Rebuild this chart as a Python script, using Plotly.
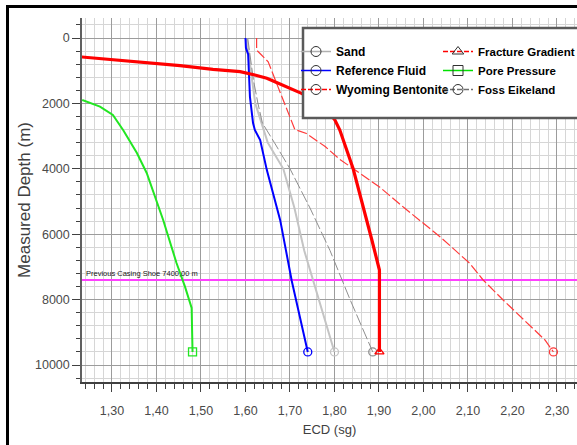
import plotly.graph_objects as go

# ---------------- data ----------------
sand_ecd = [1.603, 1.607, 1.615, 1.622, 1.633, 1.650, 1.685, 1.710, 1.732, 1.765, 1.800]
sand_depth = [0, 500, 1300, 2000, 2500, 3200, 4000, 5200, 6500, 8000, 9600]

ref_ecd = [1.600, 1.601, 1.606, 1.610, 1.617, 1.621, 1.633, 1.648, 1.678, 1.690, 1.704, 1.740]
ref_depth = [0, 300, 500, 1800, 2600, 2810, 3120, 4040, 5570, 6480, 7430, 9600]

wyo_ecd = [1.220, 1.280, 1.363, 1.453, 1.527, 1.588, 1.621, 1.648, 1.666, 1.690, 1.726,
           1.760, 1.785, 1.801, 1.812, 1.842, 1.861, 1.884, 1.901, 1.901]
wyo_depth = [565, 640, 720, 845, 960, 1030, 1131, 1230, 1336, 1480, 1692,
             1950, 2250, 2508, 2813, 4000, 4954, 6177, 7095, 9600]

frac_ecd = [1.625, 1.625, 1.636, 1.651, 1.670, 1.696, 1.711, 1.737, 1.779, 1.812, 1.842,
            1.902, 1.958, 2.037, 2.104, 2.134, 2.179, 2.273, 2.292]
frac_depth = [0, 370, 520, 725, 1390, 2300, 2800, 2920, 3320, 3710, 4000,
              4566, 5208, 6076, 6890, 7400, 8012, 9235, 9600]

pore_ecd = [1.233, 1.273, 1.302, 1.325, 1.356, 1.378, 1.415, 1.445, 1.464, 1.479, 1.481]
pore_depth = [1896, 2100, 2355, 2813, 3517, 4128, 5566, 6881, 7605, 8257, 9600]

foss_ecd = [1.605, 1.610, 1.618, 1.628, 1.638, 1.665, 1.700, 1.745, 1.790, 1.835, 1.886]
foss_depth = [0, 500, 1300, 2000, 2600, 3200, 4000, 5200, 6500, 8000, 9600]

casing_depth = 7400

x_tickvals = [1.30, 1.40, 1.50, 1.60, 1.70, 1.80, 1.90, 2.00, 2.10, 2.20, 2.30]
x_ticktext = ["1,30", "1,40", "1,50", "1,60", "1,70", "1,80", "1,90", "2,00", "2,10", "2,20", "2,30"]
y_tickvals = [0, 2000, 4000, 6000, 8000, 10000]
y_ticktext = ["0", "2000", "4000", "6000", "8000", "10000"]

x_range = [1.2326, 2.345]
y_range = [10520, -612]

# ---------------- styles ----------------
ARIAL = "Liberation Sans, Arial, sans-serif"

series = [
    # name, x, y, color, width, dash, end symbol, legend, legend line colour, legend dash
    ("Sand", sand_ecd, sand_depth, "#c4c4c4", 2, "solid", "circle-open", "legend", "#b0b0b0", "solid"),
    ("Reference Fluid", ref_ecd, ref_depth, "#0000ff", 2, "solid", "circle-open", "legend", "#0000ff", "solid"),
    ("Wyoming Bentonite", wyo_ecd, wyo_depth, "#ff0000", 3.2, "solid", "triangle-up-open", "legend", "#ff0000", "5px,2px"),
    ("Fracture Gradient", frac_ecd, frac_depth, "#ff3a3a", 1.2, "10px,3px", "circle-open", "legend2", "#ff0000", "5px,2px"),
    ("Pore Pressure", pore_ecd, pore_depth, "#22e622", 2, "solid", "square-open", "legend2", "#00e000", "solid"),
    ("Foss Eikeland", foss_ecd, foss_depth, "#8e8e8e", 1, "12px,3px", "circle-open", "legend2", "#707070", "5px,2px"),
]
legend_symbols = {"Sand": "circle-open", "Reference Fluid": "circle-open",
                  "Wyoming Bentonite": "circle-open", "Fracture Gradient": "triangle-up-open",
                  "Pore Pressure": "square-open", "Foss Eikeland": "circle-open"}

fig = go.Figure()

# casing shoe line
fig.add_trace(go.Scatter(x=x_range, y=[casing_depth, casing_depth], mode="lines",
                         line=dict(color="#ff40ff", width=2), showlegend=False, hoverinfo="skip"))

order = ["Sand", "Foss Eikeland", "Fracture Gradient", "Pore Pressure", "Reference Fluid", "Wyoming Bentonite"]
lookup = {s[0]: s for s in series}
for nm in order:
    name, xs, ys, color, w, dash, sym, leg, lcol, ldash = lookup[nm]
    fig.add_trace(go.Scatter(x=xs, y=ys, mode="lines", line=dict(color=color, width=w, dash=dash),
                             showlegend=False, hoverinfo="skip"))
    fig.add_trace(go.Scatter(x=[xs[-1]], y=[ys[-1]], mode="markers",
                             marker=dict(symbol=sym, size=8, color=color, line=dict(width=1.3, color=color)),
                             showlegend=False, hoverinfo="skip"))

# legend entries (no data drawn)
for name, xs, ys, color, w, dash, sym, leg, lcol, ldash in series:
    fig.add_trace(go.Scatter(x=[None], y=[None], mode="lines+markers", name=name, legend=leg,
                             line=dict(color=lcol, width=1.5, dash=ldash),
                             marker=dict(symbol=legend_symbols[name], size=10, color="#303030",
                                         line=dict(width=1, color="#303030"))))

L, R, T, B = 82, 0, 18, 63
W, H = 577, 445
pw, ph = W - L - R, H - T - B

def px(xp):
    return (xp - L) / pw

def py(yp):
    return (H - B - yp) / ph

tickfont = dict(family=ARIAL, size=12.5, color="#4a4a4a")
legfont = dict(family=ARIAL, size=12, color="black", weight="bold")

fig.update_layout(
    template="none",
    width=W, height=H,
    margin=dict(l=L, r=R, t=T, b=B, autoexpand=False),
    paper_bgcolor="white", plot_bgcolor="white",
    font=dict(family=ARIAL, color="#404040"),
    legend=dict(x=px(296), y=py(37), xanchor="left", yanchor="top", bgcolor="rgba(0,0,0,0)",
                borderwidth=0, font=legfont, itemwidth=30, tracegroupgap=0),
    legend2=dict(x=px(438), y=py(37), xanchor="left", yanchor="top", bgcolor="rgba(0,0,0,0)",
                 borderwidth=0, font=dict(family=ARIAL, size=11.5, color="black", weight="bold"),
                 itemwidth=30, tracegroupgap=0),
    xaxis=dict(range=x_range, tickmode="array", tickvals=x_tickvals, ticktext=x_ticktext,
               automargin=False,
               ticks="outside", ticklen=8, tickcolor="#404040", tickwidth=1,
               showgrid=True, gridcolor="#9c9c9c", gridwidth=1.3,
               showline=True, linecolor="#404040", linewidth=2, zeroline=False,
               tickfont=tickfont, ticklabelstandoff=8,
               minor=dict(tick0=1.30, dtick=0.02, showgrid=True, gridcolor="#d6d6d6", gridwidth=1.3,
                          ticks="outside", ticklen=5, tickcolor="#404040"),
               title=dict(text="ECD (sg)", font=dict(family=ARIAL, size=13, color="#404040"), standoff=8)),
    yaxis=dict(range=y_range, tickmode="array", tickvals=y_tickvals, ticktext=y_ticktext,
               automargin=False,
               ticks="outside", ticklen=8, tickcolor="#404040", tickwidth=1,
               showgrid=True, gridcolor="#9c9c9c", gridwidth=1.3,
               showline=True, linecolor="#606060", linewidth=1.5, zeroline=False,
               tickfont=tickfont,
               minor=dict(tick0=0, dtick=400, showgrid=True, gridcolor="#d6d6d6", gridwidth=1.3,
                          ticks="outside", ticklen=4, tickcolor="#404040"),
               title=dict(text="Measured Depth (m)", font=dict(family=ARIAL, size=17, color="#404040"),
                          standoff=0)),
    shapes=[
        dict(type="rect", xref="paper", yref="paper", x0=px(303), x1=1.02, y0=py(118), y1=py(28),
             fillcolor="white", line=dict(color="#5a5a5a", width=2.5), layer="above"),
        dict(type="rect", xref="paper", yref="paper", x0=px(7.5), x1=1.05, y0=-0.3, y1=py(6.5),
             fillcolor="rgba(0,0,0,0)", line=dict(color="black", width=3), layer="above"),
    ],
    annotations=[
        dict(xref="paper", yref="y", x=px(84), y=casing_depth, xanchor="left", yanchor="bottom",
             text="Previous Casing Shoe %d,00 m" % casing_depth, showarrow=False, yshift=0,
             font=dict(family=ARIAL, size=7.5, color="#202020")),
    ],
)

fig.write_html("out.html", config={"displayModeBar": False},
               post_script="document.body.style.margin='0px';")
